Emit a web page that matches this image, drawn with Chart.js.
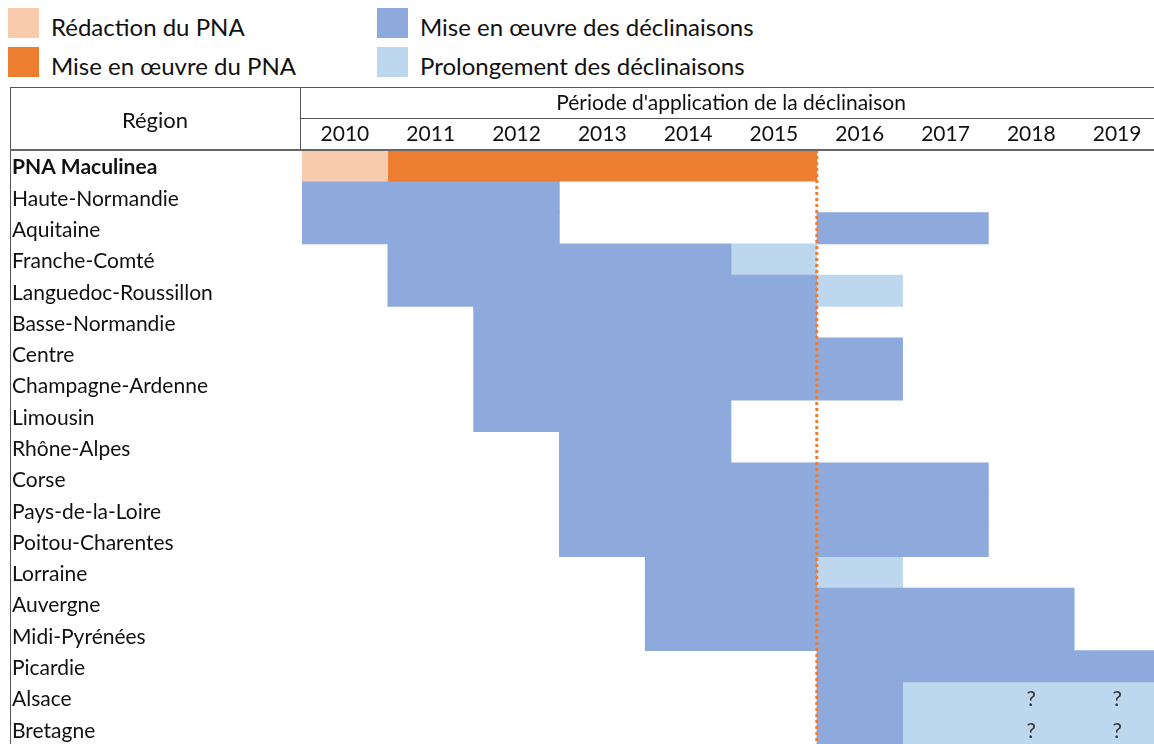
<!DOCTYPE html>
<html lang="fr">
<head>
<meta charset="utf-8">
<title>Déclinaisons régionales du PNA Maculinea</title>
<script src="https://cdn.jsdelivr.net/npm/chart.js@4/dist/chart.umd.min.js"></script>
<style>
    html, body { margin: 0; padding: 0; background: #fff; overflow: hidden; }
    body { width: 1154px; height: 744px; position: relative; font-family: Lato, sans-serif; }
    #chartBox { position: absolute; left: 0; top: 0; }
    #legend {
        position: absolute; left: 8px; top: 8px;
        display: grid; grid-template-columns: 369px auto; row-gap: 9px;
    }
    .item { display: flex; align-items: center; height: 30px; font-size: 24px; color: #111; }
    .item span.txt { position: relative; top: 3px; white-space: nowrap; }
    .swatch { width: 31px; height: 30px; margin-right: 12px; }
</style>
</head>
<body>
<div id="legend"></div>
<canvas id="chartBox" width="1170" height="760"></canvas>

<script>
// DATA
const regions = [
    'PNA Maculinea', 'Haute-Normandie', 'Aquitaine', 'Franche-Comté',
    'Languedoc-Roussillon', 'Basse-Normandie', 'Centre', 'Champagne-Ardenne',
    'Limousin', 'Rhône-Alpes', 'Corse', 'Pays-de-la-Loire', 'Poitou-Charentes',
    'Lorraine', 'Auvergne', 'Midi-Pyrénées', 'Picardie', 'Alsace', 'Bretagne'
];

const years = [2010, 2011, 2012, 2013, 2014, 2015, 2016, 2017, 2018, 2019];

// [start, end] per region, null when nothing
const redactionPNA = [
    [2010, 2011], null, null, null, null, null, null, null, null, null,
    null, null, null, null, null, null, null, null, null
];

const miseEnOeuvrePNA = [
    [2011, 2016], null, null, null, null, null, null, null, null, null,
    null, null, null, null, null, null, null, null, null
];

const miseEnOeuvreDeclinaisons = [
    null, [2010, 2013], [2010, 2013], [2011, 2015], [2011, 2016],
    [2012, 2016], [2012, 2017], [2012, 2017], [2012, 2015], [2013, 2015],
    [2013, 2018], [2013, 2018], [2013, 2018], [2014, 2016], [2014, 2019],
    [2014, 2019], [2016, 2020], [2016, 2017], [2016, 2017]
];

// second period (Aquitaine only)
const miseEnOeuvreDeclinaisons2 = [
    null, null, [2016, 2018], null, null, null, null, null, null, null,
    null, null, null, null, null, null, null, null, null
];

const prolongementDeclinaisons = [
    null, null, null, [2015, 2016], [2016, 2017], null, null, null, null, null,
    null, null, null, [2016, 2017], null, null, null, [2017, 2020], [2017, 2020]
];

// uncertain years, marked with "?"
const questionMarks = [
    { region: 'Alsace', year: 2018 },
    { region: 'Alsace', year: 2019 },
    { region: 'Bretagne', year: 2018 },
    { region: 'Bretagne', year: 2019 }
];

const endPNA = 2016;

const FONT = 'Lato, sans-serif';

// table borders, "Région" header, end of PNA line, question marks
const tablePlugin = {
    id: 'tablePlugin',
    afterDatasetsDraw(chart) {
        const { ctx, chartArea, scales } = chart;
        const x = scales.x;
        const y = scales.y;

        // dotted line at end of PNA
        const px = x.getPixelForValue(endPNA);
        ctx.save();
        ctx.strokeStyle = '#ED7D31';
        ctx.lineWidth = 3;
        ctx.setLineDash([3, 3]);
        ctx.beginPath();
        ctx.moveTo(px, chartArea.top);
        ctx.lineTo(px, chart.height);
        ctx.stroke();
        ctx.restore();

        // question marks
        ctx.save();
        ctx.fillStyle = '#333';
        ctx.font = '21px ' + FONT;
        ctx.textAlign = 'center';
        ctx.textBaseline = 'middle';
        questionMarks.forEach(q => {
            ctx.fillText('?', x.getPixelForValue(q.year + 0.5), y.getPixelForValue(regions.indexOf(q.region)) + 2);
        });
        ctx.restore();
    },
    afterDraw(chart) {
        const { ctx, chartArea, scales } = chart;
        const x = scales.x;
        const top = x.top;
        const mid = top + 31;
        const left = 10;
        const split = chartArea.left - 2;

        ctx.save();
        ctx.strokeStyle = '#555';
        ctx.lineWidth = 1;
        ctx.beginPath();
        ctx.moveTo(left, top + 0.5);
        ctx.lineTo(chart.width, top + 0.5);
        ctx.moveTo(split + 0.5, top);
        ctx.lineTo(split + 0.5, chartArea.top);
        ctx.moveTo(split, mid + 0.5);
        ctx.lineTo(chart.width, mid + 0.5);
        ctx.moveTo(left + 0.5, top);
        ctx.lineTo(left + 0.5, chart.height);
        ctx.stroke();

        ctx.lineWidth = 2;
        ctx.strokeStyle = '#666';
        ctx.beginPath();
        ctx.moveTo(left, chartArea.top);
        ctx.lineTo(chart.width, chartArea.top);
        ctx.stroke();

        ctx.fillStyle = '#111';
        ctx.font = '22px ' + FONT;
        ctx.textAlign = 'center';
        ctx.textBaseline = 'middle';
        ctx.fillText('Région', (left + split) / 2, top + 34);
        ctx.restore();
    }
};

const bar = (label, data, color) => ({
    label: label,
    data: data,
    backgroundColor: color,
    borderWidth: 0,
    grouped: false,
    barPercentage: 1,
    categoryPercentage: 1
});

const chart = new Chart(document.getElementById('chartBox'), {
    type: 'bar',
    data: {
        labels: regions,
        datasets: [
            bar('Rédaction du PNA', redactionPNA, '#F8CBAD'),
            bar('Mise en œuvre du PNA', miseEnOeuvrePNA, '#ED7D31'),
            bar('Mise en œuvre des déclinaisons', miseEnOeuvreDeclinaisons, '#8EA9DB'),
            bar('', miseEnOeuvreDeclinaisons2, '#8EA9DB'),
            bar('Prolongement des déclinaisons', prolongementDeclinaisons, '#BDD7EE')
        ]
    },
    options: {
        indexAxis: 'y',
        responsive: false,
        animation: false,
        events: [],
        layout: {
            padding: { top: 87, left: 12, right: 10, bottom: 11.5 }
        },
        plugins: {
            legend: { display: false },
            tooltip: { enabled: false }
        },
        scales: {
            x: {
                type: 'linear',
                position: 'top',
                min: years[0],
                max: years[years.length - 1] + 1,
                afterBuildTicks: axis => {
                    axis.ticks = years.map(y => ({ value: y + 0.5 }));
                },
                afterFit: axis => { axis.height = 63; },
                grid: { display: false, drawTicks: false },
                border: { display: false },
                ticks: {
                    autoSkip: false,
                    maxRotation: 0,
                    padding: 3,
                    color: '#111',
                    font: { family: FONT, size: 21 },
                    callback: v => String(Math.floor(v))
                },
                title: {
                    display: true,
                    text: "Période d'application de la déclinaison",
                    color: '#111',
                    font: { family: FONT, size: 21 },
                    padding: { top: 4, bottom: 0 }
                }
            },
            y: {
                type: 'category',
                afterFit: axis => { axis.width = 290; },
                grid: { display: false },
                border: { display: false },
                ticks: {
                    autoSkip: false,
                    crossAlign: 'far',
                    labelOffset: 2,
                    color: '#111',
                    font: ctx => ({
                        family: FONT,
                        size: 21,
                        weight: ctx.index === 0 ? 'bold' : 'normal'
                    })
                }
            }
        }
    },
    plugins: [tablePlugin]
});

// LEGEND (two columns like the original)
const legendOrder = [0, 2, 1, 4];
const legendBox = document.getElementById('legend');
legendOrder.forEach(i => {
    const ds = chart.data.datasets[i];
    const item = document.createElement('div');
    item.className = 'item';
    item.innerHTML = `<span class="swatch" style="background:${ds.backgroundColor}"></span><span class="txt">${ds.label}</span>`;
    legendBox.appendChild(item);
});
</script>
</body>
</html>
